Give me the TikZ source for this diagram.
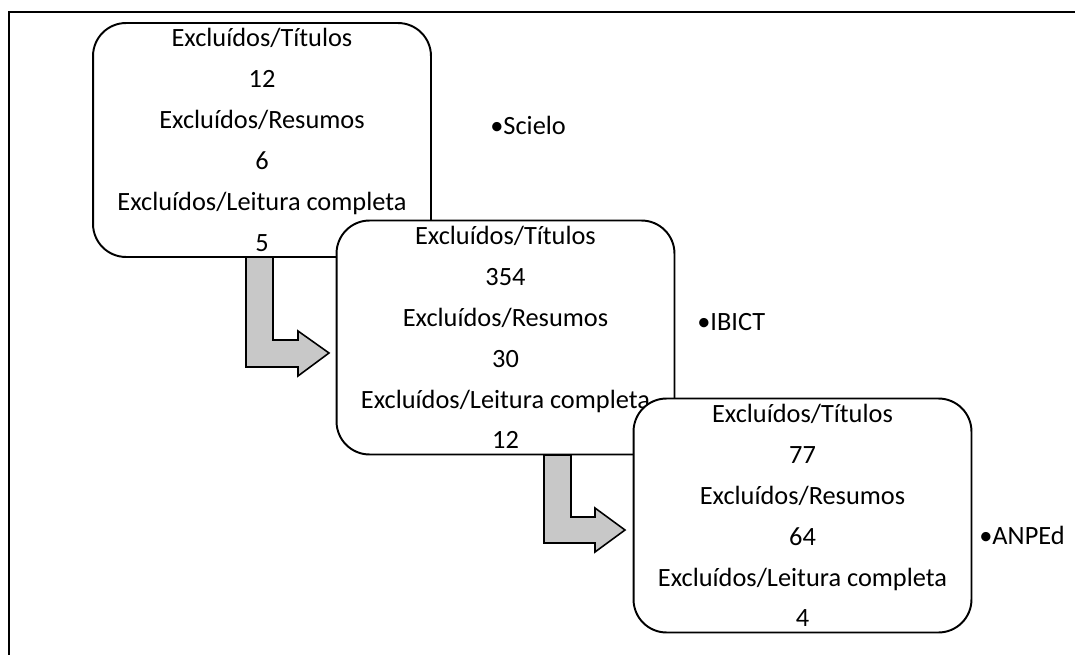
\documentclass[tikz,border=0pt]{standalone}
\usepackage{fontspec}
\setmainfont{Carlito}
\usepackage{xcolor}
\definecolor{ArrowGray}{HTML}{C8C8C8}
\usepackage{tikz}

\begin{document}
\begin{tikzpicture}[
    x=0.02cm, y=-0.02cm,
    stage/.style={draw, line width=1.1pt, fill=white, rounded corners=0.66cm,
        minimum width=6.76cm, minimum height=4.68cm, inner sep=0pt,
        align=center, font=\fontsize{15}{23.3}\selectfont},
    base/.style={font=\fontsize{15}{18}\selectfont, anchor=west, inner sep=0pt},
    bent/.style={draw, line width=0.9pt, fill=ArrowGray, line join=miter},
]
% Page: 1075 x 655 px, y grows downward
\useasboundingbox (0,0) rectangle (1075,655);

% Frame (top and left only)
\draw[line width=1.2pt] (9,655) -- (9,12) -- (1075,12);

% Stages, each one laid over the previous
\node[stage] (scielo) at (262,140)
    {Excluídos/Títulos\\12\\Excluídos/Resumos\\6\\Excluídos/Leitura completa\\5};
\node[stage] (ibict) at (505.5,337.5)
    {Excluídos/Títulos\\354\\Excluídos/Resumos\\30\\Excluídos/Leitura completa\\12};
\node[stage] (anped) at (802.5,515.5)
    {Excluídos/Títulos\\77\\Excluídos/Resumos\\64\\Excluídos/Leitura completa\\4};

% Bent arrows between stages
\draw[bent] (246,257) -- (273,257) -- (273,340) -- (298,340) -- (298,331)
    -- (329,353) -- (298,376) -- (298,367) -- (246,367) -- cycle;
\draw[bent] (544,455) -- (571,455) -- (571,517) -- (595,517) -- (595,508)
    -- (625,530) -- (595,552) -- (595,543) -- (544,543) -- cycle;

% Sources (right)
\node[base] (lblscielo) at (490,125) {•Scielo};
\node[base] (lblibict) at (697,322) {•IBICT};
\node[base] (lblanped) at (979,535) {•ANPEd};

\end{tikzpicture}
\end{document}
